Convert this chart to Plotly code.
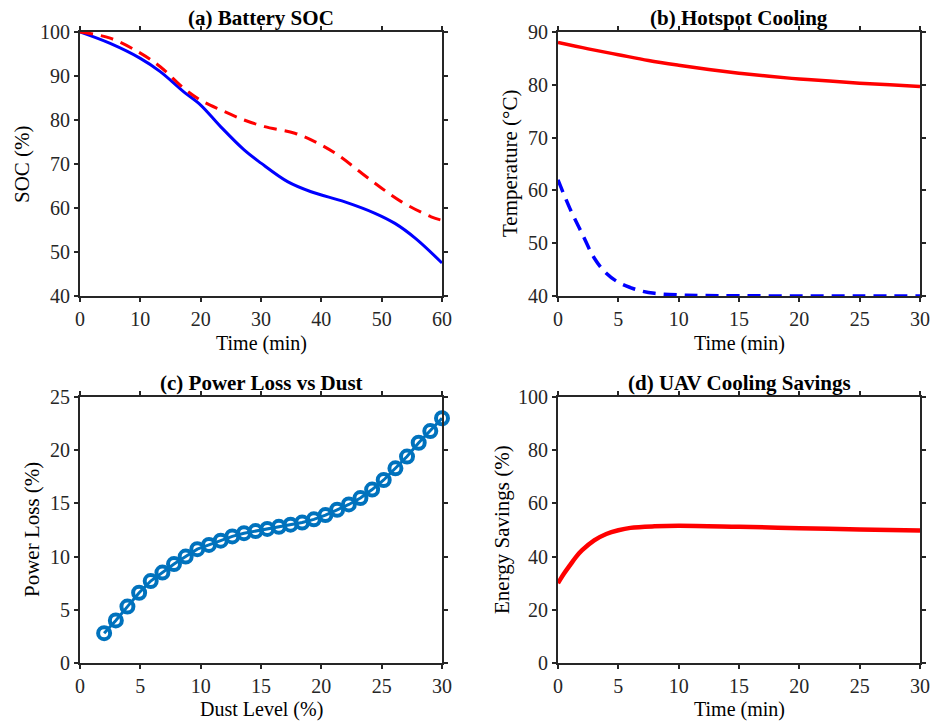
import plotly.graph_objects as go

# ---------------- data ----------------
# (a) Battery SOC
soc_t_blue = [0, 5, 10, 13.3, 17.2, 20, 23.3, 27.2, 30, 34.4, 38.3, 43.9, 48.9, 52.2, 55.6, 60]
soc_blue = [100, 97.4, 94.0, 91.0, 86.4, 83.4, 78.5, 73.2, 70.2, 66.0, 63.7, 61.4, 58.8, 56.5, 53.1, 47.5]
soc_t_red = [0, 5, 10, 13.3, 17.2, 20, 23.3, 27.2, 30.6, 35.6, 38.9, 42.8, 46.7, 50, 53.3, 58.2, 60]
soc_red = [100, 98.6, 95.2, 92.1, 87.2, 84.5, 82.3, 80.0, 78.5, 77.0, 75.1, 72.0, 67.9, 64.5, 61.4, 58.0, 57.2]

# (b) Hotspot cooling
hot_t_red = [0, 2.5, 5, 7.5, 10, 12.5, 15, 17.5, 20, 22.5, 25, 27.5, 30]
hot_red = [88.0, 86.8, 85.7, 84.6, 83.7, 82.9, 82.2, 81.6, 81.1, 80.7, 80.3, 80.0, 79.7]
hot_t_blue = [0, 1, 2, 3, 4, 5, 6, 7, 8, 10, 12, 15, 20, 25, 30]
hot_blue = [62.0, 56.5, 51.8, 47.2, 44.3, 42.6, 41.6, 40.9, 40.5, 40.2, 40.1, 40.05, 40.0, 40.0, 40.0]

# (c) Power loss vs dust
dust = [2.0, 2.97, 3.93, 4.90, 5.86, 6.83, 7.79, 8.76, 9.72, 10.69, 11.66, 12.62, 13.59, 14.55, 15.52,
        16.48, 17.45, 18.41, 19.38, 20.34, 21.31, 22.28, 23.24, 24.21, 25.17, 26.14, 27.10, 28.07, 29.03, 30.0]
loss = [2.8, 4.0, 5.3, 6.6, 7.7, 8.5, 9.3, 10.0, 10.7, 11.1, 11.5, 11.9, 12.2, 12.4, 12.6,
        12.8, 13.0, 13.2, 13.5, 13.9, 14.4, 14.9, 15.5, 16.3, 17.2, 18.3, 19.4, 20.7, 21.8, 23.0]

# (d) UAV cooling savings
sav_t = [0, 0.5, 1, 1.5, 2, 3, 4, 5, 6, 8, 10, 15, 20, 25, 30]
sav = [30.0, 33.6, 36.8, 39.9, 42.4, 46.1, 48.5, 49.9, 50.8, 51.4, 51.6, 51.2, 50.7, 50.2, 49.8]

W, H = 933, 721
FONT = "Liberation Serif"
AX = "#262626"


def px_x(v):
    return v / W


def px_y(v):
    return 1 - v / H


fig = go.Figure()

fig.add_trace(go.Scatter(x=soc_t_blue, y=soc_blue, mode="lines", line=dict(color="#0000FF", width=3, shape="spline"),
                         xaxis="x", yaxis="y", showlegend=False))
fig.add_trace(go.Scatter(x=soc_t_red, y=soc_red, mode="lines", line=dict(color="#FF0000", width=3, dash="13px,8px", shape="spline"),
                         xaxis="x", yaxis="y", showlegend=False))
fig.add_trace(go.Scatter(x=hot_t_red, y=hot_red, mode="lines", line=dict(color="#FF0000", width=3.5, shape="spline"),
                         xaxis="x2", yaxis="y2", showlegend=False))
fig.add_trace(go.Scatter(x=hot_t_blue, y=hot_blue, mode="lines", line=dict(color="#0000FF", width=3.5, dash="13px,8px", shape="spline"),
                         xaxis="x2", yaxis="y2", showlegend=False))
fig.add_trace(go.Scatter(x=dust, y=loss, mode="lines+markers", line=dict(color="#0072BD", width=3),
                         marker=dict(symbol="circle-open", size=12, line=dict(width=4, color="#0072BD"), color="#0072BD"),
                         xaxis="x3", yaxis="y3", showlegend=False, cliponaxis=False))
fig.add_trace(go.Scatter(x=sav_t, y=sav, mode="lines", line=dict(color="#FF0000", width=4.5, shape="spline"),
                         xaxis="x4", yaxis="y4", showlegend=False))

xd_left = [px_x(80), px_x(442)]
xd_right = [px_x(558), px_x(920)]
yd_top = [px_y(296), px_y(32)]
yd_bot = [px_y(663), px_y(397)]

common = dict(showline=True, linecolor=AX, linewidth=2, mirror="ticks", ticks="outside", ticklen=4,
              tickwidth=2, tickcolor=AX, showgrid=False, zeroline=False, automargin=False,
              tickfont=dict(family=FONT, size=20, color="#262626"))

fig.update_layout(
    template="none",
    width=W, height=H, margin=dict(l=0, r=0, t=0, b=0, pad=0),
    paper_bgcolor="white", plot_bgcolor="white",
    xaxis=dict(domain=xd_left, anchor="y", range=[0, 60], tickvals=[0, 10, 20, 30, 40, 50, 60], **common),
    yaxis=dict(domain=yd_top, anchor="x", range=[40, 100], tickvals=[40, 50, 60, 70, 80, 90, 100], **common),
    xaxis2=dict(domain=xd_right, anchor="y2", range=[0, 30], tickvals=[0, 5, 10, 15, 20, 25, 30], **common),
    yaxis2=dict(domain=yd_top, anchor="x2", range=[40, 90], tickvals=[40, 50, 60, 70, 80, 90], **common),
    xaxis3=dict(domain=xd_left, anchor="y3", range=[0, 30], tickvals=[0, 5, 10, 15, 20, 25, 30], **common),
    yaxis3=dict(domain=yd_bot, anchor="x3", range=[0, 25], tickvals=[0, 5, 10, 15, 20, 25], **common),
    xaxis4=dict(domain=xd_right, anchor="y4", range=[0, 30], tickvals=[0, 5, 10, 15, 20, 25, 30], **common),
    yaxis4=dict(domain=yd_bot, anchor="x4", range=[0, 100], tickvals=[0, 20, 40, 60, 80, 100], **common),
)

titles = [("(a) Battery SOC", 261, 18), ("(b) Hotspot Cooling", 739, 18),
          ("(c) Power Loss vs Dust", 261, 383), ("(d) UAV Cooling Savings", 739, 383)]
for txt, x, y in titles:
    fig.add_annotation(text="<b>%s</b>" % txt, x=px_x(x), y=px_y(y), xref="paper", yref="paper",
                       xanchor="center", yanchor="middle", showarrow=False,
                       font=dict(family=FONT, size=21, color="#000000"))

xlabels = [("Time (min)", 261, 343), ("Time (min)", 739, 343),
           ("Dust Level (%)", 261, 709), ("Time (min)", 739, 709)]
for txt, x, y in xlabels:
    fig.add_annotation(text=txt, x=px_x(x), y=px_y(y), xref="paper", yref="paper",
                       xanchor="center", yanchor="middle", showarrow=False,
                       font=dict(family=FONT, size=20, color="#000000"))

ylabels = [("SOC (%)", 22, 164), ("Temperature (°C)", 510, 164),
           ("Power Loss (%)", 32, 530), ("Energy Savings (%)", 502, 530)]
for txt, x, y in ylabels:
    fig.add_annotation(text=txt, x=px_x(x), y=px_y(y), xref="paper", yref="paper",
                       xanchor="center", yanchor="middle", showarrow=False, textangle=-90,
                       font=dict(family=FONT, size=21, color="#000000"))

fig.write_html("out.html")
